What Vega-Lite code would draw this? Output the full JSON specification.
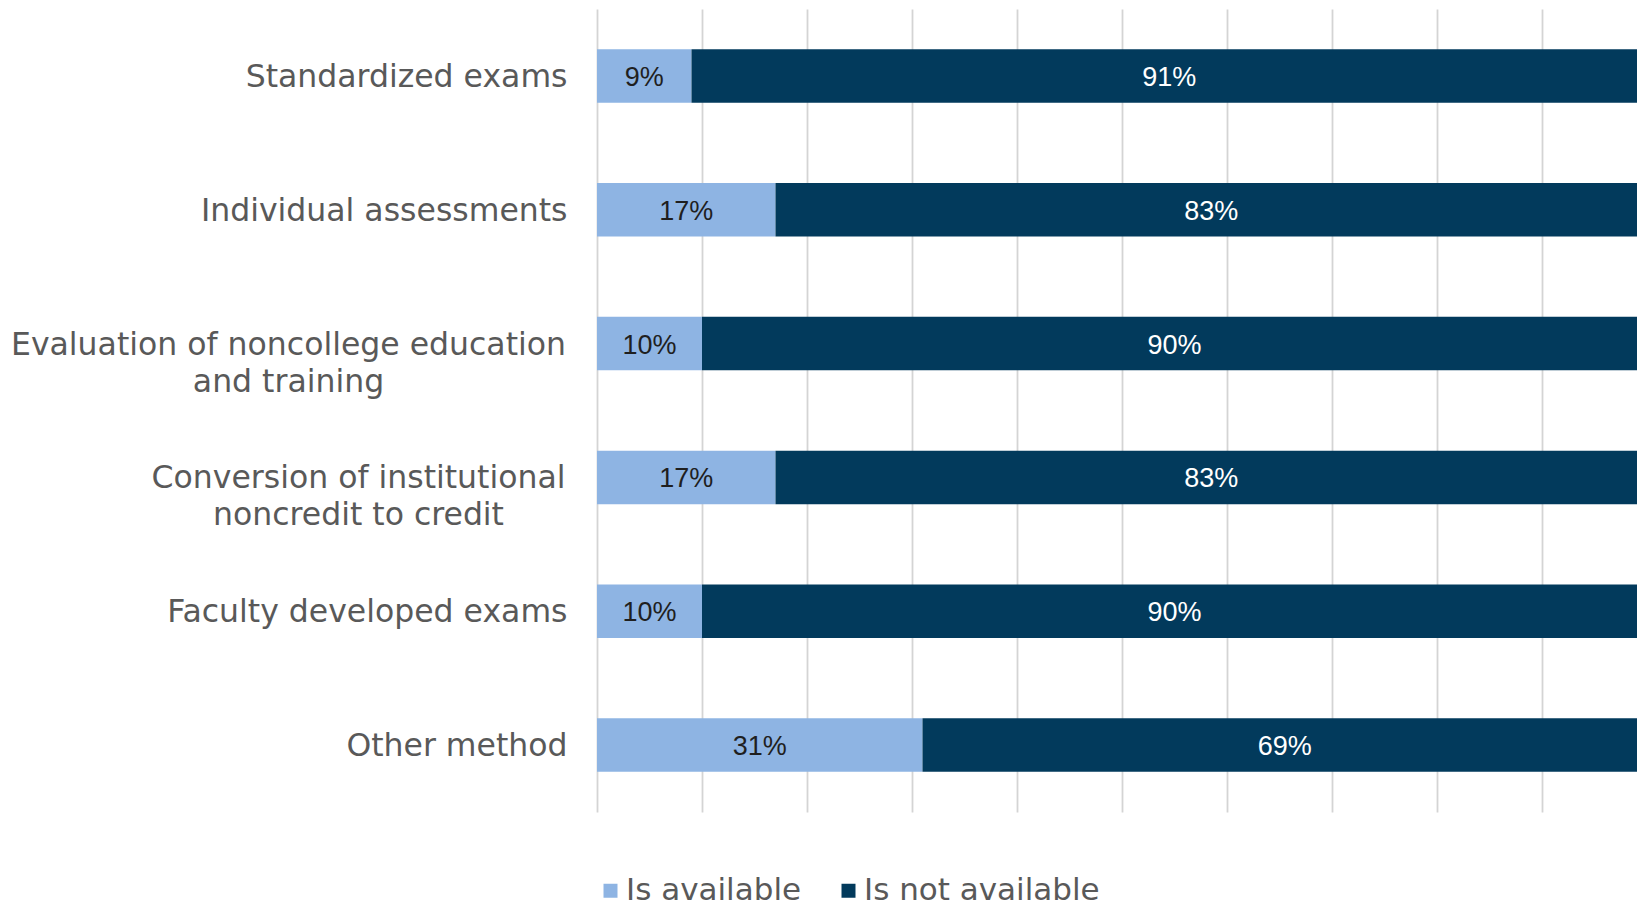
{
  "$schema": "https://vega.github.io/schema/vega-lite/v6.json",
  "autosize": {"type": "none"},
  "padding": {"left": 597, "top": 9, "right": 0, "bottom": 94},
  "width": 1040,
  "height": 803,
  "background": "white",
  "config": {"view": {"stroke": null}},
  "data": {
    "values": [
      {"method": "Standardized exams", "status": "Is available", "share": 0.09},
      {"method": "Standardized exams", "status": "Is not available", "share": 0.91},
      {"method": "Individual assessments", "status": "Is available", "share": 0.17},
      {"method": "Individual assessments", "status": "Is not available", "share": 0.83},
      {"method": "Evaluation of noncollege education and training", "status": "Is available", "share": 0.10},
      {"method": "Evaluation of noncollege education and training", "status": "Is not available", "share": 0.90},
      {"method": "Conversion of institutional noncredit to credit", "status": "Is available", "share": 0.17},
      {"method": "Conversion of institutional noncredit to credit", "status": "Is not available", "share": 0.83},
      {"method": "Faculty developed exams", "status": "Is available", "share": 0.10},
      {"method": "Faculty developed exams", "status": "Is not available", "share": 0.90},
      {"method": "Other method", "status": "Is available", "share": 0.31},
      {"method": "Other method", "status": "Is not available", "share": 0.69}
    ]
  },
  "transform": [
    {"stack": "share", "groupby": ["method"], "sort": [{"field": "status", "order": "ascending"}], "as": ["x0", "x1"]},
    {"calculate": "(datum.x0 + datum.x1) / 2", "as": "mid"}
  ],
  "encoding": {
    "y": {
      "field": "method",
      "type": "nominal",
      "sort": null,
      "title": null,
      "scale": {"paddingInner": 0.6, "paddingOuter": 0.3},
      "axis": {
        "domain": false,
        "ticks": false,
        "grid": false,
        "labelFont": "DejaVu Sans",
        "labelFontSize": 31.5,
        "labelColor": "#595959",
        "labelLineHeight": 37,
        "labelLimit": 700,
        "labelOffset": 2,
        "labelExpr": "datum.value == 'Evaluation of noncollege education and training' ? ['Evaluation of noncollege education', 'and training'] : datum.value == 'Conversion of institutional noncredit to credit' ? ['Conversion of institutional', 'noncredit to credit'] : datum.value",
        "labelAlign": {
          "condition": {"test": "datum.value == 'Evaluation of noncollege education and training' || datum.value == 'Conversion of institutional noncredit to credit'", "value": "center"},
          "value": "right"
        },
        "labelPadding": {
          "condition": [
            {"test": "datum.value == 'Evaluation of noncollege education and training'", "value": 309},
            {"test": "datum.value == 'Conversion of institutional noncredit to credit'", "value": 239}
          ],
          "value": 30
        }
      }
    }
  },
  "layer": [
    {
      "mark": {"type": "bar", "clip": true},
      "encoding": {
        "x": {
          "field": "x0",
          "type": "quantitative",
          "scale": {"domain": [0, 0.9905], "nice": false, "zero": true},
          "axis": {
            "values": [0, 0.1, 0.2, 0.3, 0.4, 0.5, 0.6, 0.7, 0.8, 0.9],
            "grid": true,
            "gridColor": "#D4D4D4",
            "gridWidth": 1.8,
            "labels": false,
            "ticks": false,
            "domain": false,
            "title": null
          }
        },
        "x2": {"field": "x1"},
        "color": {
          "field": "status",
          "type": "nominal",
          "scale": {"domain": ["Is available", "Is not available"], "range": ["#8EB4E3", "#023A5C"]},
          "legend": {
            "title": null,
            "orient": "none",
            "direction": "horizontal",
            "legendX": -2,
            "legendY": 866,
            "padding": 0,
            "symbolType": "square",
            "symbolSize": 196,
            "symbolStrokeWidth": 0,
            "labelFont": "DejaVu Sans",
            "labelFontSize": 31,
            "labelColor": "#595959",
            "labelOffset": 0,
            "columnPadding": 31,
            "labelLimit": 400
          }
        }
      }
    },
    {
      "mark": {"type": "text", "font": "Liberation Sans", "fontSize": 27, "align": "center", "baseline": "middle", "dy": 2},
      "encoding": {
        "x": {"field": "mid", "type": "quantitative"},
        "text": {"field": "share", "type": "quantitative", "format": ".0%"},
        "color": {
          "condition": {"test": "datum.status == 'Is available'", "value": "#1F1F1F"},
          "value": "#FFFFFF"
        }
      }
    }
  ]
}
